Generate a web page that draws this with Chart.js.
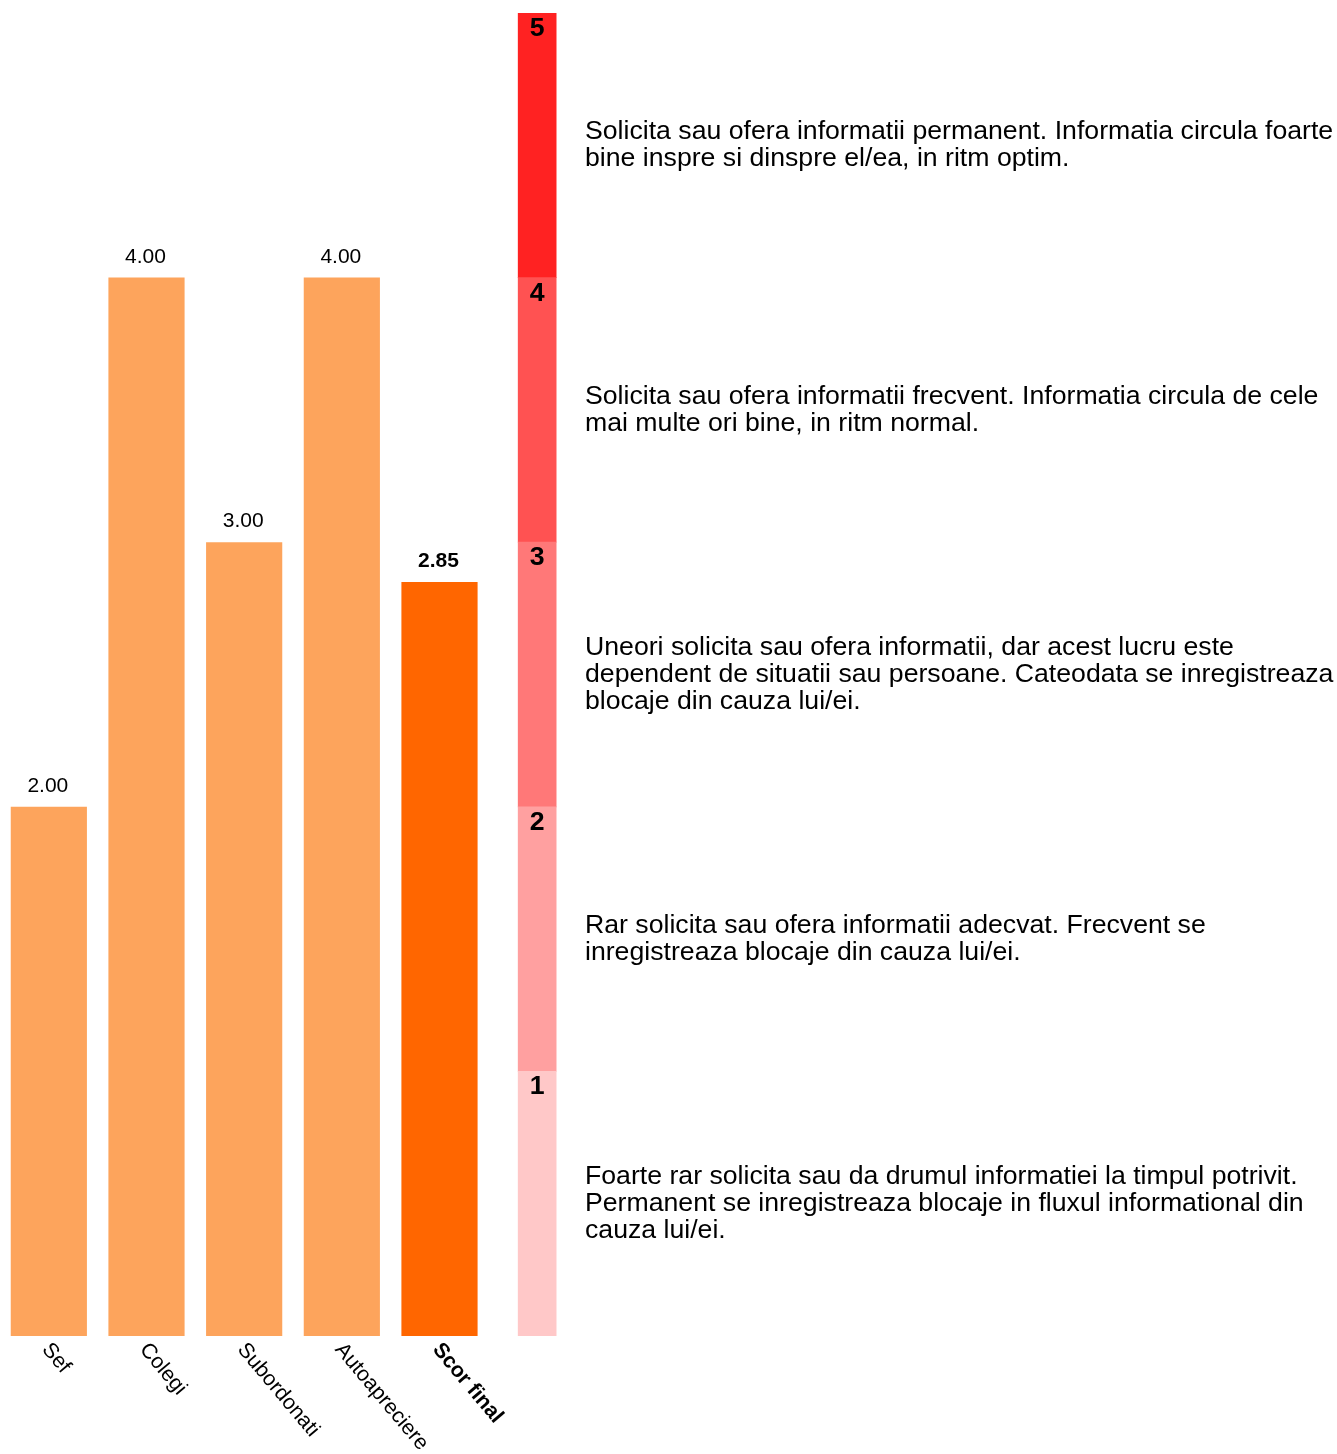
<!DOCTYPE html>
<html>
<head>
<meta charset="utf-8">
<script src="https://cdn.jsdelivr.net/npm/chart.js@4.4.1/dist/chart.umd.min.js"></script>
<style>
    html, body { margin: 0; padding: 0; background: #fff; }
    canvas { display: block; }
</style>
</head>
<body>
<canvas id="scoreChart" width="1337" height="1454"></canvas>
<script>
const categories = ['Sef', 'Colegi', 'Subordonati', 'Autoapreciere', 'Scor final'];
const scores = [2.00, 4.00, 3.00, 4.00, 2.85];
const barColors = ['#fda45c', '#fda45c', '#fda45c', '#fda45c', '#ff6600'];

// scale column, bottom (1) to top (5)
const levels = [1, 2, 3, 4, 5];
const levelColors = ['#ffc8c8', '#ffa0a0', '#ff7878', '#ff5252', '#ff2222'];
const levelTexts = [
    ['Foarte rar solicita sau da drumul informatiei la timpul potrivit.',
     'Permanent se inregistreaza blocaje in fluxul informational din',
     'cauza lui/ei.'],
    ['Rar solicita sau ofera informatii adecvat. Frecvent se',
     'inregistreaza blocaje din cauza lui/ei.'],
    ['Uneori solicita sau ofera informatii, dar acest lucru este',
     'dependent de situatii sau persoane. Cateodata se inregistreaza',
     'blocaje din cauza lui/ei.'],
    ['Solicita sau ofera informatii frecvent. Informatia circula de cele',
     'mai multe ori bine, in ritm normal.'],
    ['Solicita sau ofera informatii permanent. Informatia circula foarte',
     'bine inspre si dinspre el/ea, in ritm optim.']
];

const FONT = "'Liberation Sans', Arial, sans-serif";
const n = categories.length;

const datasets = [{
    data: scores.concat([null]),
    backgroundColor: barColors,
    barPercentage: 0.78,
    categoryPercentage: 1
}];
levels.forEach((lv, i) => {
    const d = new Array(n).fill(null);
    d.push(1);
    datasets.push({
        data: d,
        backgroundColor: levelColors[i],
        barThickness: 38
    });
});

const labelsPlugin = {
    id: 'labelsPlugin',
    afterDatasetsDraw(chart) {
        const ctx = chart.ctx;
        const xs = chart.scales.x;
        const ys = chart.scales.y;
        const area = chart.chartArea;
        ctx.save();
        ctx.fillStyle = '#000';

        // values above bars
        const main = chart.getDatasetMeta(0);
        ctx.textAlign = 'center';
        ctx.textBaseline = 'alphabetic';
        scores.forEach((v, i) => {
            const el = main.data[i];
            ctx.font = (i === n - 1 ? 'bold ' : '') + '21px ' + FONT;
            ctx.fillText(v.toFixed(2), el.x - 1, el.y - 15);
        });

        // level numbers in the scale column
        ctx.font = 'bold 26.67px ' + FONT;
        levels.forEach((lv, i) => {
            const el = chart.getDatasetMeta(i + 1).data[n];
            ctx.fillText(String(lv), el.x, el.y + 23);
        });

        // rotated category labels
        ctx.textAlign = 'left';
        ctx.textBaseline = 'middle';
        categories.forEach((c, i) => {
            ctx.save();
            ctx.translate(xs.getPixelForValue(i) - 3, area.bottom + 10);
            ctx.rotate(50 * Math.PI / 180);
            ctx.font = (i === n - 1 ? 'bold ' : '') + '21.3px ' + FONT;
            ctx.fillText(c, 0, 0);
            ctx.restore();
        });

        // level descriptions
        ctx.font = '26.67px ' + FONT;
        const lh = 26.7;
        levels.forEach((lv, i) => {
            const lines = levelTexts[i];
            const mid = ys.getPixelForValue(lv - 0.5);
            lines.forEach((line, j) => {
                ctx.fillText(line, area.right - 1, mid + (j - (lines.length - 1) / 2) * lh);
            });
        });
        ctx.restore();
    }
};

new Chart(document.getElementById('scoreChart'), {
    type: 'bar',
    data: {
        labels: categories.concat(['']),
        datasets: datasets
    },
    options: {
        responsive: false,
        animation: false,
        layout: { padding: { left: -1, right: 751, top: 13, bottom: 118 } },
        plugins: {
            legend: { display: false },
            tooltip: { enabled: false }
        },
        scales: {
            x: { stacked: true, display: false },
            y: { stacked: true, display: false, min: 0, max: 5 }
        }
    },
    plugins: [labelsPlugin]
});
</script>
</body>
</html>
